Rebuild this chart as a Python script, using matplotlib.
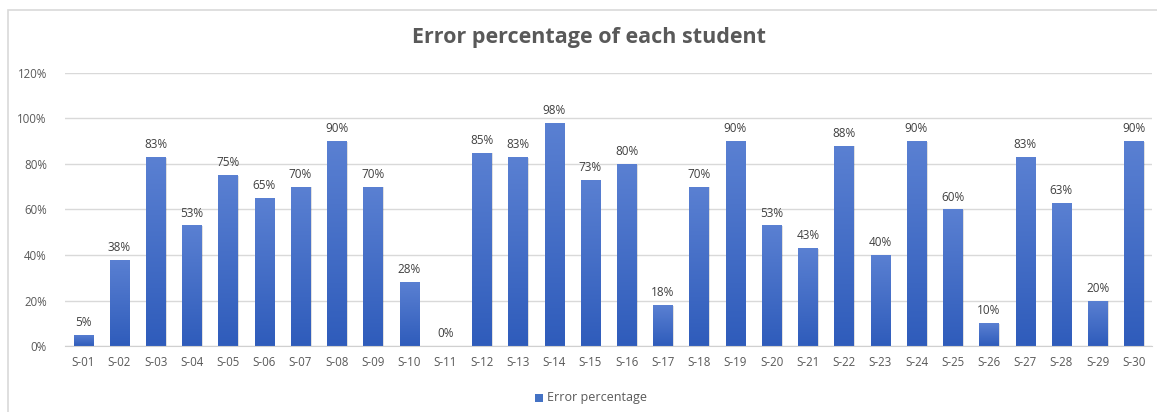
import numpy as np
import matplotlib
matplotlib.use("Agg")
import matplotlib.pyplot as plt
from matplotlib.patches import Rectangle
from matplotlib.colors import LinearSegmentedColormap

plt.rcParams['font.family'] = ['Open Sans', 'DejaVu Sans']

# data
students = ["S-%02d" % i for i in range(1, 31)]
error_pct = [5, 38, 83, 53, 75, 65, 70, 90, 70, 28, 0, 85, 83, 98, 73,
             80, 18, 70, 90, 53, 43, 88, 40, 90, 60, 10, 83, 63, 20, 90]
y_ticks = [0, 20, 40, 60, 80, 100, 120]

W, H = 1157, 412
fig = plt.figure(figsize=(W / 100, H / 100), dpi=100)

# outer chart frame (Excel style), running off the right and bottom edges
fig.patches.append(Rectangle((8 / W, -0.1), 1.2, 1 - 10 / H + 0.1,
                             transform=fig.transFigure, fill=False,
                             edgecolor='#d9d9d9', linewidth=1.2))

ax = fig.add_axes([65 / W, 1 - 346 / H, (1152 - 65) / W, (346 - 73) / H])

x = np.arange(len(students))
bw = 0.53
grad = LinearSegmentedColormap.from_list('g', ['#2f5cbb', '#5a80d2'])
gimg = np.linspace(0, 1, 100).reshape(-1, 1)

bars = ax.bar(x, error_pct, width=bw, color='#4472c4', zorder=2)
for b in bars:
    h = b.get_height()
    if h <= 0:
        continue
    # light shadow
    ax.add_patch(Rectangle((b.get_x() + 0.04, 0), bw, h - 0.3,
                           facecolor='#000000', alpha=0.12, zorder=1.5,
                           linewidth=0))
    im = ax.imshow(gimg, cmap=grad, aspect='auto', origin='lower',
                   extent=(b.get_x(), b.get_x() + bw, 0, h), zorder=2.1)
    im.set_clip_path(b)

for xi, v in zip(x, error_pct):
    ax.text(xi, v + 2.6, "%d%%" % v, ha='center', va='bottom',
            fontsize=8.5, color='#404040')

ax.set_xlim(-0.5, len(students) - 0.5)
ax.set_ylim(0, 120)
ax.set_yticks(y_ticks)
ax.set_yticklabels(["%d%%" % t for t in y_ticks])
ax.set_xticks(x)
ax.set_xticklabels(students)
ax.tick_params(axis='both', length=0, labelsize=8.3, labelcolor='#595959')
ax.tick_params(axis='x', pad=7)
ax.tick_params(axis='y', pad=13)
ax.grid(axis='y', color='#d9d9d9', linewidth=1, zorder=0)
ax.set_axisbelow(True)
for s in ['top', 'right', 'left']:
    ax.spines[s].set_visible(False)
ax.spines['bottom'].set_color('#d0d0d0')

fig.text(589 / W, 1 - 38 / H, "Error percentage of each student",
         ha='center', va='center', fontsize=15.5, fontweight='bold',
         color='#595959')

# legend
fig.patches.append(Rectangle((535 / W, 1 - 402 / H), 8 / W, 8 / H,
                             transform=fig.transFigure,
                             facecolor='#4472c4', edgecolor='none'))
fig.text(547 / W, 1 - 398 / H, "Error percentage", ha='left', va='center',
         fontsize=9, color='#595959')

fig.savefig("out.png", dpi=100)
